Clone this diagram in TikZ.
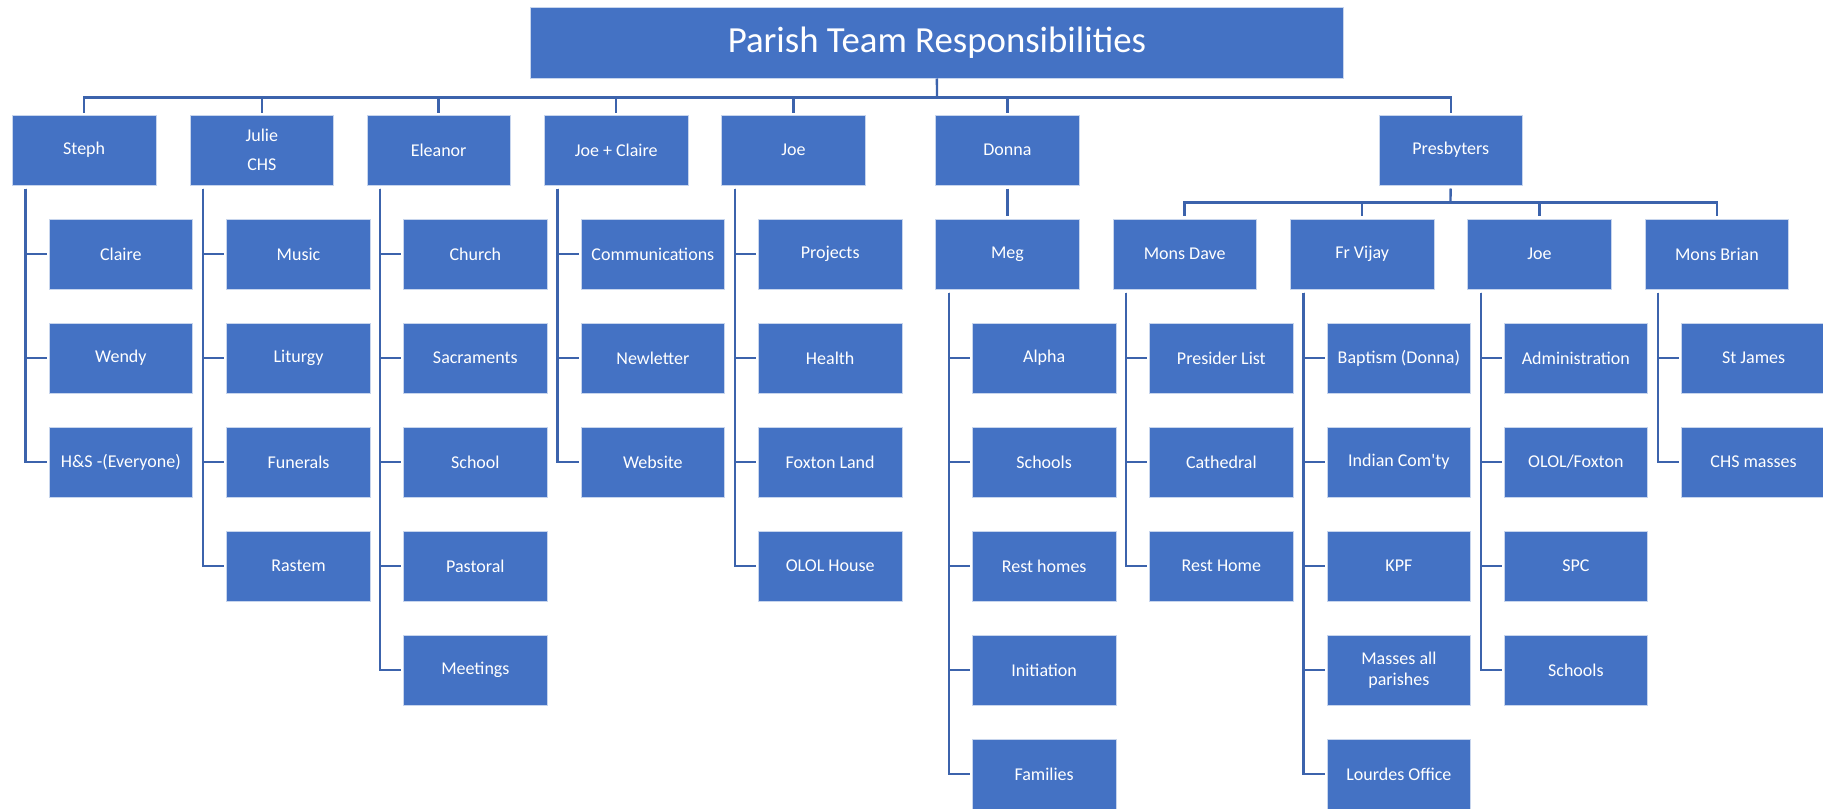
\documentclass[tikz,border=0pt]{standalone}
\usepackage{fontspec}
\setmainfont{Carlito}
\definecolor{boxblue}{HTML}{4472C4}
\definecolor{linkblue}{HTML}{3C63AC}

\tikzset{
  box/.style={draw=white!70!boxblue, line width=0.4pt, fill=boxblue, text=white,
    anchor=north west, minimum width=71.75pt, minimum height=35pt, inner sep=1pt,
    align=center, font=\fontsize{9}{10.8}\selectfont},
  link/.style={draw=linkblue, line width=1.2pt},
  kid/.style={link, shorten >=1pt},
}

\begin{document}
\begin{tikzpicture}[x=0.5pt, y=-0.5pt]
          \useasboundingbox (0,0) rectangle (1823,808);

          % Title
          \node[box, minimum width=406.5pt, minimum height=35.2pt, font=\fontsize{18.4}{22}\selectfont] (title) at (530,7.3) {Parish Team Responsibilities};
          \coordinate (bus) at (937,97.7);
          \draw[link] (title.south) -- (bus);

          % Team members
          \node[box] (steph) at (12,114.7) {Steph};
          \node[box] (julie) at (189.7,114.7) {Julie\\[3.7pt]CHS};
          \node[box] (eleanor) at (366.5,114.7) {Eleanor};
          \node[box] (joeclaire) at (544,114.7) {Joe + Claire};
          \node[box] (joe) at (721.3,114.7) {Joe};
          \node[box] (donna) at (935.3,114.7) {Donna};
          \node[box] (presb) at (1378.6,114.7) {Presbyters};
          \foreach \n in {steph,julie,eleanor,joeclaire,joe,donna,presb}
            \draw[link, shorten <=1pt] (\n.north) |- (bus);

          % Steph
          \node[box] (claire) at (48.7,218.7) {Claire};
          \node[box] (wendy) at (48.7,322.7) {Wendy};
          \node[box] (hands) at (48.7,426.7) {H\&S -(Everyone)};
          \foreach \n in {claire,wendy,hands}
            \draw[kid] ([xshift=6.7pt,yshift=-1.5pt]steph.south west) |- (\n.west);

          % Julie
          \node[box] (music) at (226.4,218.7) {Music};
          \node[box] (liturgy) at (226.4,322.7) {Liturgy};
          \node[box] (funerals) at (226.4,426.7) {Funerals};
          \node[box] (rastem) at (226.4,530.7) {Rastem};
          \foreach \n in {music,liturgy,funerals,rastem}
            \draw[kid] ([xshift=6.7pt,yshift=-1.5pt]julie.south west) |- (\n.west);

          % Eleanor
          \node[box] (church) at (403.2,218.7) {Church};
          \node[box] (sacraments) at (403.2,322.7) {Sacraments};
          \node[box] (school) at (403.2,426.7) {School};
          \node[box] (pastoral) at (403.2,530.7) {Pastoral};
          \node[box] (meetings) at (403.2,634.7) {Meetings};
          \foreach \n in {church,sacraments,school,pastoral,meetings}
            \draw[kid] ([xshift=6.7pt,yshift=-1.5pt]eleanor.south west) |- (\n.west);

          % Joe + Claire
          \node[box] (comms) at (580.7,218.7) {Communications};
          \node[box] (newsletter) at (580.7,322.7) {Newletter};
          \node[box] (website) at (580.7,426.7) {Website};
          \foreach \n in {comms,newsletter,website}
            \draw[kid] ([xshift=6.7pt,yshift=-1.5pt]joeclaire.south west) |- (\n.west);

          % Joe
          \node[box] (projects) at (758,218.7) {Projects};
          \node[box] (health) at (758,322.7) {Health};
          \node[box] (foxton) at (758,426.7) {Foxton Land};
          \node[box] (ololhouse) at (758,530.7) {OLOL House};
          \foreach \n in {projects,health,foxton,ololhouse}
            \draw[kid] ([xshift=6.7pt,yshift=-1.5pt]joe.south west) |- (\n.west);

          % Donna and Meg
          \node[box] (meg) at (935.3,218.7) {Meg};
          \draw[link, shorten <=1.5pt, shorten >=1.5pt] (donna.south) -- (meg.north);
          \node[box] (alpha) at (972,322.7) {Alpha};
          \node[box] (schools) at (972,426.7) {Schools};
          \node[box] (resthomes) at (972,530.7) {Rest homes};
          \node[box] (initiation) at (972,634.7) {Initiation};
          \node[box] (families) at (972,738.7) {Families};
          \foreach \n in {alpha,schools,resthomes,initiation,families}
            \draw[kid] ([xshift=6.7pt,yshift=-1.5pt]meg.south west) |- (\n.west);

          % Presbyters
          \coordinate (pbus) at (1450.4,202.3);
          \draw[link, shorten <=1.5pt] (presb.south) -- (pbus);
          \node[box] (dave) at (1112.5,218.7) {Mons Dave};
          \node[box] (vijay) at (1290,218.7) {Fr Vijay};
          \node[box] (joep) at (1467.3,218.7) {Joe};
          \node[box] (brian) at (1644.7,218.7) {Mons Brian};
          \foreach \n in {dave,vijay,joep,brian}
            \draw[link, shorten <=1.5pt] (\n.north) |- (pbus);

          % Mons Dave
          \node[box] (presider) at (1149.2,322.7) {Presider List};
          \node[box] (cathedral) at (1149.2,426.7) {Cathedral};
          \node[box] (resthome) at (1149.2,530.7) {Rest Home};
          \foreach \n in {presider,cathedral,resthome}
            \draw[kid] ([xshift=6.7pt,yshift=-1.5pt]dave.south west) |- (\n.west);

          % Fr Vijay
          \node[box] (baptism) at (1326.7,322.7) {Baptism (Donna)};
          \node[box] (indian) at (1326.7,426.7) {Indian Com\textquotesingle ty};
          \node[box] (kpf) at (1326.7,530.7) {KPF};
          \node[box] (masses) at (1326.7,634.7) {Masses all\\parishes};
          \node[box] (lourdes) at (1326.7,738.7) {Lourdes Office};
          \foreach \n in {baptism,indian,kpf,masses,lourdes}
            \draw[kid] ([xshift=6.7pt,yshift=-1.5pt]vijay.south west) |- (\n.west);

          % Joe (Presbyter)
          \node[box] (admin) at (1503.7,322.7) {Administration};
          \node[box] (ololfoxton) at (1503.7,426.7) {OLOL/Foxton};
          \node[box] (spc) at (1503.7,530.7) {SPC};
          \node[box] (schoolsp) at (1503.7,634.7) {Schools};
          \foreach \n in {admin,ololfoxton,spc,schoolsp}
            \draw[kid] ([xshift=6.7pt,yshift=-1.5pt]joep.south west) |- (\n.west);

          % Mons Brian
          \node[box] (stjames) at (1681.4,322.7) {St James};
          \node[box] (chsmasses) at (1681.4,426.7) {CHS masses};
          \foreach \n in {stjames,chsmasses}
            \draw[kid] ([xshift=6.7pt,yshift=-1.5pt]brian.south west) |- (\n.west);

        \end{tikzpicture}
\end{document}
